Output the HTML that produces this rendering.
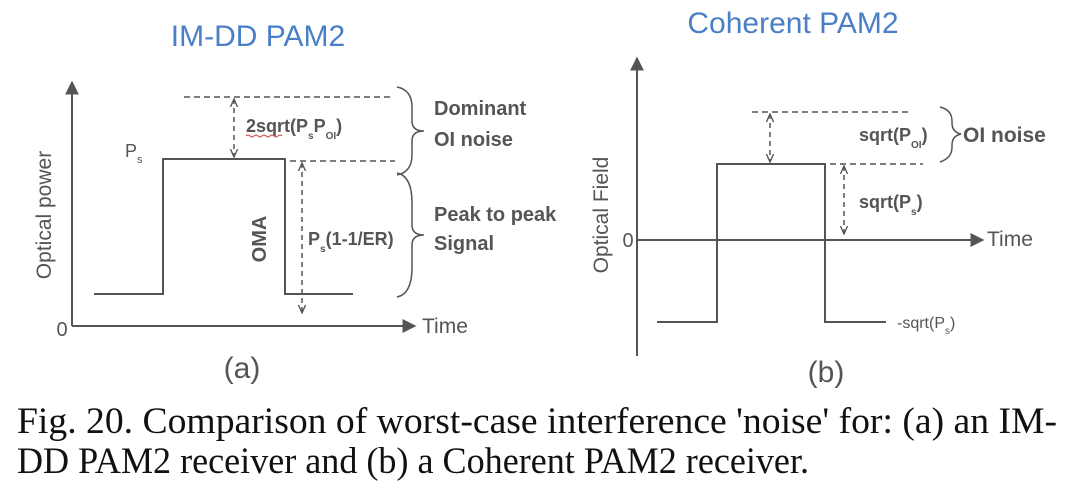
<!DOCTYPE html>
<html><head><meta charset="utf-8"><style>
html,body{margin:0;padding:0;background:#fff;}
svg{display:block;}
.s{font-family:"Liberation Sans",sans-serif;}
</style></head><body>
<svg width="1080" height="498" viewBox="0 0 1080 498" xmlns="http://www.w3.org/2000/svg">
<defs>
<marker id="ah" viewBox="0 0 10 10" refX="9" refY="5" markerWidth="7" markerHeight="7" orient="auto-start-reverse"><path d="M0,0 L10,5 L0,10 z" fill="#555"/></marker>
<marker id="sa" viewBox="0 0 10 10" refX="9" refY="5" markerWidth="6" markerHeight="6" orient="auto-start-reverse"><path d="M0,1 L9,5 L0,9" fill="none" stroke="#555" stroke-width="1.5"/></marker>
</defs>
<g class="s" fill="#555">
<!-- Panel A -->
<text x="258" y="46" font-size="30" fill="#4a7fc8" text-anchor="middle">IM-DD PAM2</text>
<line x1="72" y1="326" x2="72" y2="82" stroke="#555" stroke-width="2" marker-end="url(#ah)"/>
<line x1="72" y1="326" x2="415" y2="326" stroke="#555" stroke-width="2" marker-end="url(#ah)"/>
<text x="62" y="336" font-size="20" text-anchor="middle">0</text>
<text x="422" y="333" font-size="21">Time</text>
<text transform="translate(51,215) rotate(-90)" font-size="21" text-anchor="middle">Optical power</text>
<polyline points="94,294 163,294 163,159 285,159 285,294 353,294" fill="none" stroke="#555" stroke-width="2"/>
<line x1="184" y1="97" x2="393" y2="97" stroke="#555" stroke-width="1.5" stroke-dasharray="6,4"/>
<line x1="290" y1="161" x2="395" y2="161" stroke="#555" stroke-width="1.5" stroke-dasharray="6,4"/>
<line x1="234" y1="99" x2="234" y2="157" stroke="#555" stroke-width="1.5" stroke-dasharray="5,4" marker-start="url(#sa)" marker-end="url(#sa)"/>
<line x1="302" y1="163" x2="302" y2="313" stroke="#555" stroke-width="1.5" stroke-dasharray="5,4" marker-start="url(#sa)" marker-end="url(#sa)"/>
<text x="125" y="157" font-size="18">P<tspan font-size="11" dy="6">s</tspan></text>
<text x="246" y="132" font-size="18" font-weight="bold">2sqrt(P<tspan font-size="10" dy="7">s</tspan><tspan dy="-7">P</tspan><tspan font-size="10" dy="7">OI</tspan><tspan dy="-7">)</tspan></text>
<path d="M246,136 q2,-2 4,0 t4,0 t4,0 t4,0 t4,0 t4,0 t4,0 t4,0 t4,0" fill="none" stroke="#d04040" stroke-width="1"/>
<text x="308" y="245" font-size="18" font-weight="bold">P<tspan font-size="10" dy="7">s</tspan><tspan dy="-7">(1-1/ER)</tspan></text>
<text transform="translate(266,239) rotate(-90)" font-size="20" font-weight="bold" text-anchor="middle">OMA</text>
<path d="M397,87 q15,3 15,20 v14 q0,10 12,10 q-12,0 -12,10 v14 q0,17 -15,20" fill="none" stroke="#555" stroke-width="1.5"/>
<path d="M397,173 q15,3 15,30 v22 q0,10 12,10 q-12,0 -12,10 v22 q0,27 -15,30" fill="none" stroke="#555" stroke-width="1.5"/>
<text x="434" y="115" font-size="20" font-weight="bold">Dominant</text>
<text x="434" y="146" font-size="20" font-weight="bold">OI noise</text>
<text x="434" y="221" font-size="20" font-weight="bold">Peak to peak</text>
<text x="434" y="250" font-size="20" font-weight="bold">Signal</text>
<text x="242" y="378" font-size="30" text-anchor="middle">(a)</text>
<!-- Panel B -->
<text x="793" y="33" font-size="30" fill="#4a7fc8" text-anchor="middle">Coherent PAM2</text>
<line x1="637" y1="356" x2="637" y2="58" stroke="#555" stroke-width="2" marker-end="url(#ah)"/>
<line x1="637" y1="240" x2="983" y2="240" stroke="#555" stroke-width="2" marker-end="url(#ah)"/>
<text x="628" y="247" font-size="20" text-anchor="middle">0</text>
<text x="987" y="246" font-size="21">Time</text>
<text transform="translate(608,215) rotate(-90)" font-size="21" text-anchor="middle">Optical Field</text>
<polyline points="657,322 717,322 717,164 825,164 825,322 886,322" fill="none" stroke="#555" stroke-width="2"/>
<line x1="752" y1="112" x2="909" y2="112" stroke="#555" stroke-width="1.5" stroke-dasharray="6,4"/>
<line x1="830" y1="164" x2="923" y2="164" stroke="#555" stroke-width="1.5" stroke-dasharray="6,4"/>
<line x1="770" y1="114" x2="770" y2="162" stroke="#555" stroke-width="1.5" stroke-dasharray="5,4" marker-start="url(#sa)" marker-end="url(#sa)"/>
<line x1="844" y1="166" x2="844" y2="234" stroke="#555" stroke-width="1.5" stroke-dasharray="5,4" marker-start="url(#sa)" marker-end="url(#sa)"/>
<text x="859" y="141" font-size="18" font-weight="bold">sqrt(P<tspan font-size="10" dy="7">OI</tspan><tspan dy="-7">)</tspan></text>
<text x="859" y="208" font-size="18" font-weight="bold">sqrt(P<tspan font-size="10" dy="7">s</tspan><tspan dy="-7">)</tspan></text>
<path d="M940,107 q12,3 12,14 v2 q0,9 9,11 q-9,2 -9,11 v2 q0,11 -12,15" fill="none" stroke="#555" stroke-width="1.5"/>
<text x="963" y="142" font-size="21" font-weight="bold">OI noise</text>
<text x="897" y="328" font-size="16">-sqrt(P<tspan font-size="10" dy="6">s</tspan><tspan dy="-6">)</tspan></text>
<text x="826" y="382" font-size="30" text-anchor="middle">(b)</text>
</g>
<g font-family="'Liberation Serif',serif" font-size="37" fill="#111">
<text x="17" y="433" textLength="1040" lengthAdjust="spacingAndGlyphs">Fig. 20. Comparison of worst-case interference 'noise' for: (a) an IM-</text>
<text x="17" y="473" textLength="792" lengthAdjust="spacingAndGlyphs">DD PAM2 receiver and (b) a Coherent PAM2 receiver.</text>
</g>
</svg>
</body></html>
